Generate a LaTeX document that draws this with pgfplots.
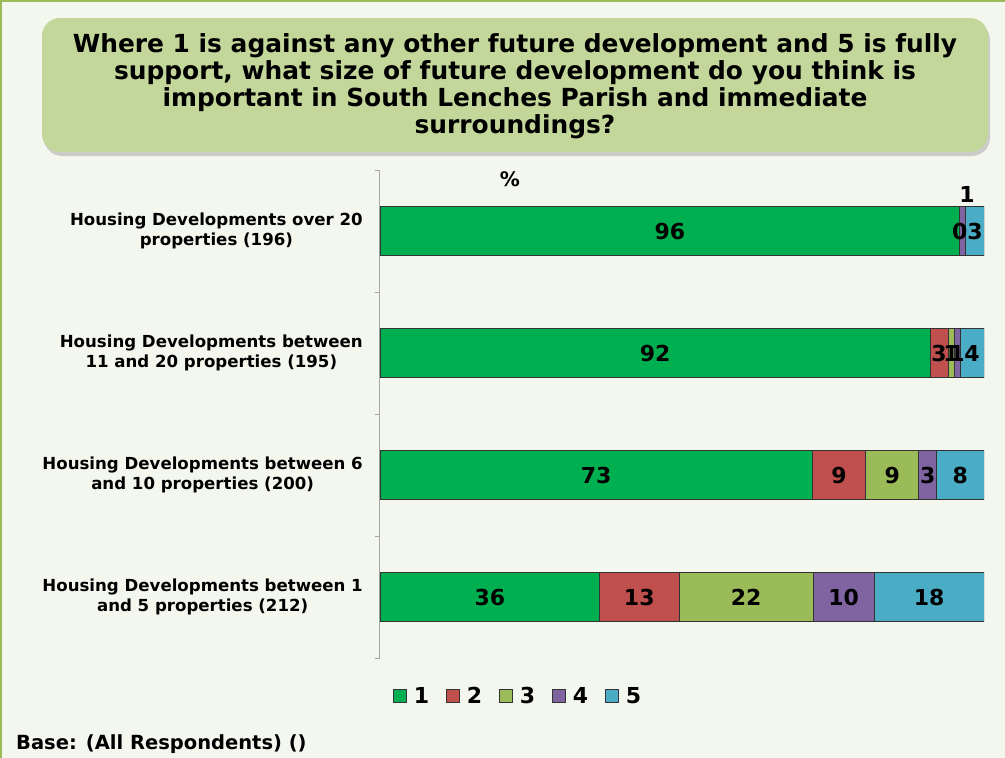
\documentclass[border=0pt]{standalone}
\usepackage{pgfplots}
\pgfplotsset{compat=1.18}
\usepackage{pgfplotstable}
\usepackage{fontspec}
\setmainfont{DejaVu Sans}

\definecolor{c1}{HTML}{00B050}
\definecolor{c2}{HTML}{C0504D}
\definecolor{c3}{HTML}{9BBB59}
\definecolor{c4}{HTML}{8064A2}
\definecolor{c5}{HTML}{4BACC6}
\definecolor{bgc}{HTML}{F4F7EE}
\definecolor{titlebg}{HTML}{C4D79B}
\definecolor{framec}{HTML}{9BBB59}

% columns: y = row (0 = bottom), x = bar width in % of row total
\pgfplotstableread{
y x
0 36.36
1 71.57
2 91.09
3 96
}\sone
\pgfplotstableread{
y x
0 13.13
1 8.82
2 2.97
3 0
}\stwo
\pgfplotstableread{
y x
0 22.22
1 8.82
2 0.99
3 0
}\sthree
\pgfplotstableread{
y x
0 10.10
1 2.94
2 0.99
3 1
}\sfour
\pgfplotstableread{
y x
0 18.18
1 7.84
2 3.96
3 3
}\sfive
% displayed values, at the middle of their segments
\pgfplotstableread{
x y lab
18.18 0 36
42.93 0 13
60.61 0 22
76.77 0 10
90.91 0 18
35.79 1 73
75.98 1 9
84.80 1 9
90.68 1 3
96.08 1 8
45.55 2 92
92.57 2 3
94.55 2 1
95.54 2 1
98.02 2 4
48 3 96
96 3 0
97.2 3.3 1
98.5 3 3
}\vlabels

\pgfplotsset{
 sq legend/.style={legend image code/.code={\path[draw=none,fill=none] (0pt,0pt) -- (18pt,0pt);\draw[##1, draw=black!80, line width=0.8pt] (0pt,-6.5pt) rectangle (13pt,6.5pt);}},
 geom/.style={at={(380pt,-658pt)}, anchor=south west,
   scale only axis, width=604pt, height=488pt,
   xmin=0, xmax=100, ymin=-0.5, ymax=3.5},
}

\begin{document}
\begin{tikzpicture}
% background and frame
\fill[bgc] (0pt,0pt) rectangle (1100pt,-800pt);
\draw[framec, line width=2pt] (1pt,-1pt) rectangle (1100pt,-800pt);
% title box with shadow
\fill[black!30, opacity=0.6, rounded corners=18pt] (44pt,-22pt) rectangle (990pt,-156pt);
\fill[titlebg, rounded corners=18pt] (42pt,-18pt) rectangle (988pt,-152pt);
\node[align=center, font=\fontsize{24.9}{27}\selectfont\bfseries] at (515pt,-86pt)
 {Where 1 is against any other future development and 5 is fully\\support, what size of future development do you think is\\important in South Lenches Parish and immediate\\surroundings?};
\node[font=\fontsize{20}{20}\selectfont\bfseries] at (510pt,-179pt) {\%};
\node[anchor=base west, inner sep=0pt, font=\fontsize{19.5}{20}\selectfont\bfseries] at (16pt,-749pt) {Base: (All Respondents) ()};

% bars
\begin{axis}[
 geom,
 xbar stacked, bar width=49pt,
 hide x axis,
 axis y line*=left,
 y axis line style={draw=black!35, -, line width=1pt},
 ytick={0,1,2,3},
 yticklabels={{Housing Developments between 1\\and 5 properties (212)},
              {Housing Developments between 6\\and 10 properties (200)},
              {Housing Developments between\\11 and 20 properties (195)},
              {Housing Developments over 20\\properties (196)}},
 major tick length=0pt,
 extra y ticks={-0.5,0.5,1.5,2.5,3.5},
 extra y tick labels={},
 extra y tick style={major tick length=5pt, tick align=outside, tick style={draw=black!35, line width=1pt}},
 yticklabel style={font=\fontsize{16.6}{20}\selectfont\bfseries, align=center, inner sep=0pt, xshift=-17pt},
 legend style={at={(axis description cs:0.229,-0.0779)}, anchor=center, legend columns=-1,
   draw=none, fill=none, font=\fontsize{22}{22}\selectfont\bfseries,
   /tikz/every even column/.append style={column sep=15.3pt}},
 every axis plot/.append style={draw=black!80, line width=0.8pt},
]
\addplot[fill=c1, sq legend] table[x=x, y=y] {\sone};
\addplot[fill=c2, sq legend] table[x=x, y=y] {\stwo};
\addplot[fill=c3, sq legend] table[x=x, y=y] {\sthree};
\addplot[fill=c4, sq legend] table[x=x, y=y] {\sfour};
\addplot[fill=c5, sq legend] table[x=x, y=y] {\sfive};
\legend{1,2,3,4,5}
\end{axis}

% value labels, drawn on top of all bars
\begin{axis}[
 geom,
 hide axis,
 point meta=explicit symbolic,
 nodes near coords={\pgfplotspointmeta},
 nodes near coords align={center},
 every node near coord/.append style={font=\fontsize{22}{22}\selectfont\bfseries, text=black, anchor=center},
]
\addplot[only marks, mark=none, draw=none] table[x=x, y=y, meta=lab] {\vlabels};
\end{axis}
\pgfresetboundingbox
\useasboundingbox (0pt,0pt) rectangle (1005pt,-758pt);
\end{tikzpicture}
\end{document}
